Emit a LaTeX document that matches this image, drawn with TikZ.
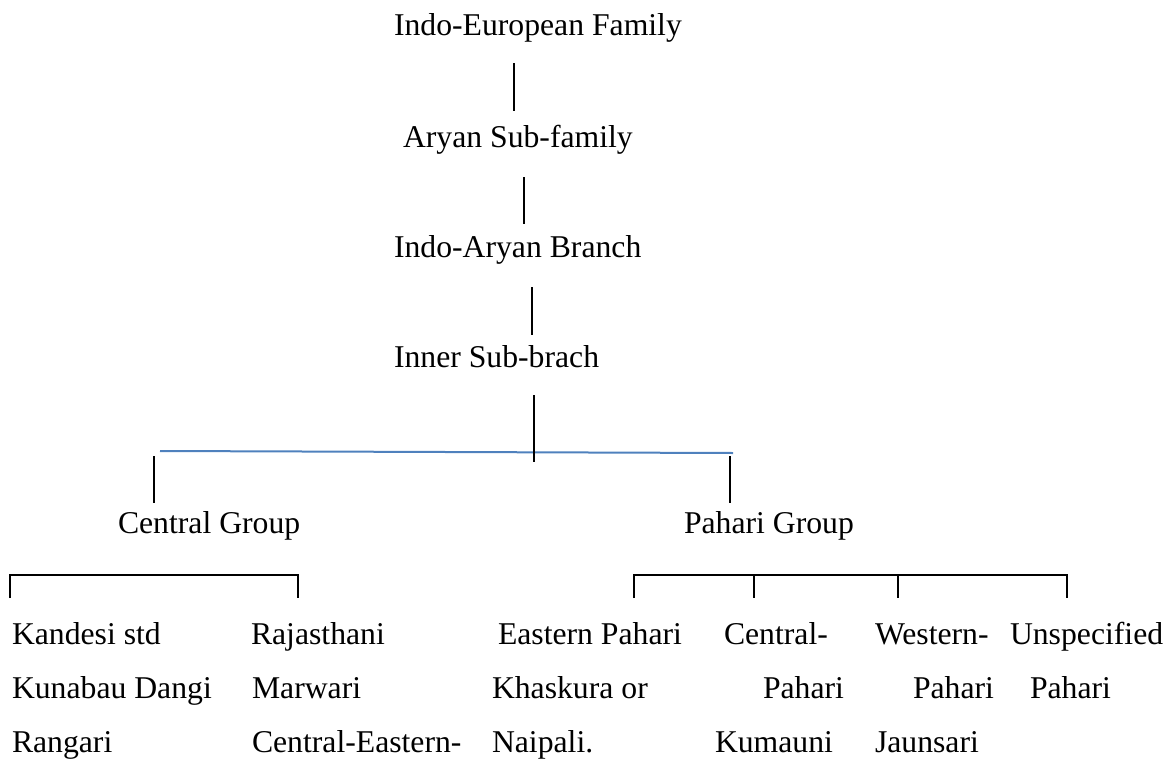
\documentclass[tikz,border=0pt]{standalone}
\usepackage{fontspec}
\setmainfont{Liberation Serif}
\definecolor{barblue}{RGB}{79,129,189}
\begin{document}
\begin{tikzpicture}[x=0.5pt,y=-0.5pt,inner sep=0pt,outer sep=0pt,
lang/.style={anchor=base west,font=\fontsize{15.85}{19}\selectfont},
stem/.style={line width=0.75pt},
bar/.style={line width=1pt,draw=barblue}]
\useasboundingbox (0,0) rectangle (1168,760);
% family line
\draw (394,35) node[lang] (ie) {Indo-European Family};
\draw (403,147) node[lang] (aryan) {Aryan Sub-family};
\draw (394,257) node[lang] (ia) {Indo-Aryan Branch};
\draw (394,367) node[lang] (inner) {Inner Sub-brach};
\coordinate (s1a) at (514,63);  \coordinate (s1b) at (514,111);
\coordinate (s2a) at (524,177); \coordinate (s2b) at (524,224);
\coordinate (s3a) at (532,287); \coordinate (s3b) at (532,335);
\draw[stem] (s1a) -- (s1b);
\draw[stem] (s2a) -- (s2b);
\draw[stem] (s3a) -- (s3b);
% split into the two groups
\coordinate (s4a) at (534,395); \coordinate (s4b) at (534,462);
\coordinate (barl) at (160,451); \coordinate (barr) at (733,453);
\coordinate (cga) at (154,456); \coordinate (cgb) at (154,503);
\coordinate (pga) at (730,456); \coordinate (pgb) at (730,503);
\draw[bar] (barl) -- (barr);
\draw[stem] (s4a) -- (s4b);
\draw[stem] (cga) -- (cgb);
\draw[stem] (pga) -- (pgb);
\draw (118,533) node[lang] (central) {Central Group};
\draw (684,533) node[lang] (pahari) {Pahari Group};
% brackets
\coordinate (cb1) at (10,598);  \coordinate (cb1t) at (10,575);
\coordinate (cb2) at (298,598); \coordinate (cb2t) at (298,575);
\draw[stem] (cb1) -- (cb1t) -- (cb2t) -- (cb2);
\coordinate (pb1) at (634,598);  \coordinate (pb1t) at (634,575);
\coordinate (pb2) at (754,598);  \coordinate (pb2t) at (754,575);
\coordinate (pb3) at (898,598);  \coordinate (pb3t) at (898,575);
\coordinate (pb4) at (1067,598); \coordinate (pb4t) at (1067,575);
\draw[stem] (pb1) -- (pb1t) -- (pb4t) -- (pb4);
\draw[stem] (pb2t) -- (pb2);
\draw[stem] (pb3t) -- (pb3);
% languages
\draw (12,644) node[lang] (kan) {Kandesi std};
\draw (12,698) node[lang] (kun) {Kunabau Dangi};
\draw (12,752) node[lang] (ran) {Rangari};
\draw (251,644) node[lang] (raj) {Rajasthani};
\draw (252,698) node[lang] (mar) {Marwari};
\draw (252,752) node[lang] (cen) {Central-Eastern-};
\draw (498,644) node[lang] (eas) {Eastern Pahari};
\draw (492,698) node[lang] (kha) {Khaskura or};
\draw (492,752) node[lang] (nai) {Naipali.};
\draw (724,644) node[lang] (cp1) {Central-};
\draw (763,698) node[lang] (cp2) {Pahari};
\draw (715,752) node[lang] (kum) {Kumauni};
\draw (875,644) node[lang] (wp1) {Western-};
\draw (913,698) node[lang] (wp2) {Pahari};
\draw (875,752) node[lang] (jau) {Jaunsari};
\draw (1010,644) node[lang] (up1) {Unspecified};
\draw (1030,698) node[lang] (up2) {Pahari};
\end{tikzpicture}
\end{document}
